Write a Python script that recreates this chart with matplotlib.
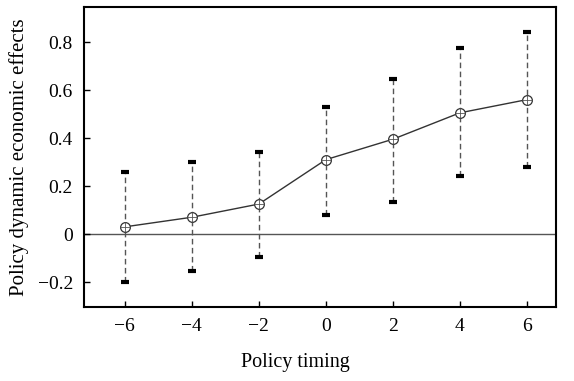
import matplotlib.pyplot as plt
import numpy as np

plt.rcParams['font.family'] = ['Liberation Serif', 'DejaVu Serif']

# data
timing = [-6, -4, -2, 0, 2, 4, 6]
effect = [0.03, 0.07, 0.125, 0.31, 0.395, 0.505, 0.56]
upper = [0.26, 0.30, 0.34, 0.53, 0.645, 0.775, 0.84]
lower = [-0.20, -0.155, -0.095, 0.08, 0.135, 0.24, 0.28]

timing = np.array(timing)
effect = np.array(effect)
err = [effect - np.array(lower), np.array(upper) - effect]

fig = plt.figure(figsize=(5.74, 3.81), dpi=100)
ax = fig.add_axes([84 / 574, 1 - 307 / 381, (556 - 84) / 574, (307 - 7) / 381])

ax.axhline(0, color='#555555', linewidth=1.0, zorder=1)

eb = ax.errorbar(timing, effect, yerr=err, fmt='none', ecolor='#555555',
                 elinewidth=1.0, capsize=3, capthick=3, zorder=2)
eb[2][0].set_linestyle((0, (4, 2.5)))
for cap in eb[1]:
    cap.set_markeredgecolor('black')

ax.plot(timing, effect, color='#333333', linewidth=1.0, marker='o',
        markersize=7, markerfacecolor='white', markeredgecolor='#333333',
        markeredgewidth=0.9, zorder=3)
ax.plot(timing, effect, linestyle='none', marker='+', markersize=7,
        color='#555555', markeredgewidth=0.6, zorder=4)

ax.set_xlim(-7.22, 6.87)
ax.set_ylim(-0.304, 0.946)
ax.set_xticks(timing)
ax.set_xticklabels(['\u22126', '\u22124', '\u22122', '0', '2', '4', '6'])
ax.set_yticks([-0.2, 0, 0.2, 0.4, 0.6, 0.8])
ax.set_yticklabels(['\u22120.2', '0', '0.2', '0.4', '0.6', '0.8'])
ax.tick_params(direction='in', length=4, width=1, labelsize=14, pad=8)

for s in ax.spines.values():
    s.set_linewidth(1.5)

ax.set_xlabel('Policy timing', fontsize=14.5)
ax.xaxis.set_label_coords((295 - 84) / 472, -0.155)
ax.set_ylabel('Policy dynamic economic effects', fontsize=15, labelpad=6)

plt.savefig('out.png', dpi=100)
